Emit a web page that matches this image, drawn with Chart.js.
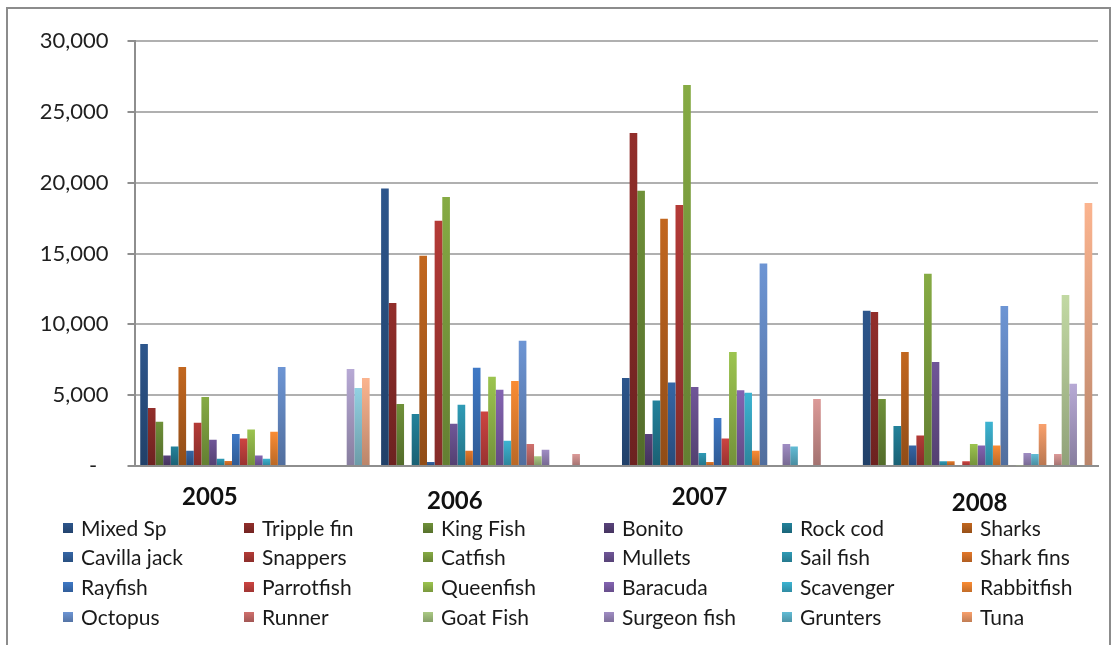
<!DOCTYPE html>
<html>
<head>
<meta charset="utf-8">
<script src="https://cdn.jsdelivr.net/npm/chart.js@4.4.1/dist/chart.umd.min.js"></script>
<style>
  html, body { margin: 0; padding: 0; background: #ffffff; }
  #wrap { position: relative; width: 1120px; height: 645px; overflow: hidden; }
  #c { position: absolute; left: 0; top: 0; }
  #frame { position: absolute; left: 6px; top: 7px; width: 1105px; height: 680px;
           border: 2px solid #8c8c8c; box-sizing: border-box; pointer-events: none; }
</style>
</head>
<body>
<div id="wrap">
  <canvas id="c" width="1120" height="645"></canvas>
  <div id="frame"></div>
</div>
<script>
// Landed catch by species and year
const years = ['2005', '2006', '2007', '2008'];

const speciesNames = [
  'Mixed Sp', 'Tripple fin', 'King Fish', 'Bonito', 'Rock cod', 'Sharks',
  'Cavilla jack', 'Snappers', 'Catfish', 'Mullets', 'Sail fish', 'Shark fins',
  'Rayfish', 'Parrotfish', 'Queenfish', 'Baracuda', 'Scavenger', 'Rabbitfish',
  'Octopus', 'Runner', 'Goat Fish', 'Surgeon fish', 'Grunters', 'Tuna'
];
// further series that the legend has no room for
const extraNames = ['Series 25', 'Series 26', 'Series 27', 'Series 28', 'Series 29', 'Series 30'];

const catch2005 = [8610, 4090, 3130, 750, 1385, 6990, 1080, 3060, 4870, 1860, 515, 350,
                   2260, 1950, 2585, 750, 515, 2420, 6990, 0, 0, 0, 0, 0,
                   0, 0, 0, 6850, 5500, 6210];
const catch2006 = [19590, 11500, 4375, 70, 3670, 14840, 280, 17310, 18985, 2985, 4330, 1080,
                   6940, 3855, 6300, 5385, 1785, 6000, 8840, 1550, 680, 1150, 0, 0,
                   0, 850, 0, 0, 0, 0];
const catch2007 = [6210, 23500, 19430, 2260, 4630, 17450, 5900, 18420, 26900, 5575, 920, 280,
                   3390, 1950, 8045, 5340, 5170, 1080, 14300, 0, 0, 1550, 1385, 0,
                   0, 4730, 0, 0, 0, 0];
const catch2008 = [10960, 10870, 4730, 0, 2820, 8045, 1455, 2160, 13570, 7340, 330, 330,
                   0, 330, 1550, 1455, 3130, 1455, 11290, 0, 50, 920, 850, 2960,
                   0, 850, 12070, 5810, 0, 18560];

const yTickValues = [0, 5000, 10000, 15000, 20000, 25000, 30000];

// Office-style palette: six hues in five shades, darkest first
const seriesColors = [
  '#2d568c', '#922e2b', '#6f9139', '#59437b', '#23829b', '#c2671f',
  '#3566a6', '#b43b37', '#86ab44', '#705698', '#2f9bb6', '#e3782a',
  '#3f79c6', '#cd4441', '#9cc44f', '#8464b2', '#3db4d2', '#fa8c34',
  '#6d95d4', '#d0706d', '#abca84', '#a08dc4', '#62bcd5', '#f8a06c',
  '#97b4e0', '#dc9a98', '#c2d9a3', '#b7a9d5', '#92d1e2', '#fbb48f'
];

// category label placement (offset from group centre, baseline row)
const yearLabelShift = [-45, -41, -37, 2];
const yearLabelY = [497, 501, 497, 503];

// legend grid
const legendColX = [63, 244, 423, 604, 782, 962];
const legendRowY = [528, 557, 587, 617];

const FONT = 'Lato, "Open Sans", "DejaVu Sans", sans-serif';

function shade(hex, f) {
  const n = parseInt(hex.slice(1), 16);
  const r = Math.round(((n >> 16) & 255) * f);
  const g = Math.round(((n >> 8) & 255) * f);
  const b = Math.round((n & 255) * f);
  return 'rgb(' + r + ',' + g + ',' + b + ')';
}

const allNames = speciesNames.concat(extraNames);
const byYear = [catch2005, catch2006, catch2007, catch2008];

const datasets = allNames.map((name, i) => {
  const base = seriesColors[i];
  return {
    label: name,
    data: byYear.map(arr => arr[i]),
    baseColor: base,
    backgroundColor: (ctx) => {
      const chart = ctx.chart;
      if (!chart.chartArea || ctx.type !== 'data') return base;
      const ys = chart.scales.y;
      const top = ys.getPixelForValue(ctx.raw);
      const bottom = ys.getPixelForValue(0);
      if (bottom - top < 2) return base;
      const gr = chart.ctx.createLinearGradient(0, top, 0, bottom);
      gr.addColorStop(0, base);
      gr.addColorStop(1, shade(base, 0.74));
      return gr;
    },
    borderWidth: 0,
    categoryPercentage: 30 / 31.5,
    barPercentage: 1.0
  };
});

// year labels under each cluster
const yearLabels = {
  id: 'yearLabels',
  afterDraw(chart) {
    const g = chart.ctx;
    const xs = chart.scales.x;
    g.save();
    g.font = 'bold 24px ' + FONT;
    g.fillStyle = '#111111';
    g.textAlign = 'center';
    g.textBaseline = 'middle';
    years.forEach((yr, i) => {
      g.fillText(yr, xs.getPixelForValue(i) + yearLabelShift[i], yearLabelY[i]);
    });
    g.restore();
  }
};

// six-column legend for the named species
const gridLegend = {
  id: 'gridLegend',
  afterDraw(chart) {
    const g = chart.ctx;
    g.save();
    g.font = '21px ' + FONT;
    g.textBaseline = 'middle';
    g.textAlign = 'left';
    speciesNames.forEach((name, i) => {
      const col = i % 6, row = Math.floor(i / 6);
      const x = legendColX[col], y = legendRowY[row];
      const base = chart.data.datasets[i].baseColor;
      const gr = g.createLinearGradient(0, y - 5, 0, y + 5);
      gr.addColorStop(0, base);
      gr.addColorStop(1, shade(base, 0.78));
      g.fillStyle = gr;
      g.fillRect(x, y - 5, 10, 10);
      g.fillStyle = '#1a1a1a';
      g.fillText(name, x + 18, y + 1);
    });
    g.restore();
  }
};

new Chart(document.getElementById('c'), {
  type: 'bar',
  data: { labels: years, datasets },
  options: {
    responsive: false,
    animation: false,
    events: [],
    layout: { padding: { left: 0, right: 22, top: 41, bottom: 179 } },
    plugins: { legend: { display: false }, tooltip: { enabled: false } },
    scales: {
      x: {
        grid: { display: false, drawTicks: false },
        border: { display: true, color: '#8e8e8e', width: 2 },
        ticks: { display: false },
        afterFit(scale) { scale.height = 0; }
      },
      y: {
        min: 0,
        max: 30000,
        afterBuildTicks(scale) { scale.ticks = yTickValues.map(v => ({ value: v })); },
        afterFit(scale) { scale.width = 134.5; },
        grid: { color: '#b0b0b0', lineWidth: 2, tickLength: 7, tickColor: '#8e8e8e' },
        border: { display: true, color: '#8e8e8e', width: 2 },
        ticks: {
          padding: 19,
          color: '#1f1f1f',
          font: { family: FONT, size: 22 },
          callback: (v) => v === 0 ? '-  ' : Number(v).toLocaleString('en-US')
        }
      }
    }
  },
  plugins: [yearLabels, gridLegend]
});
</script>
</body>
</html>
